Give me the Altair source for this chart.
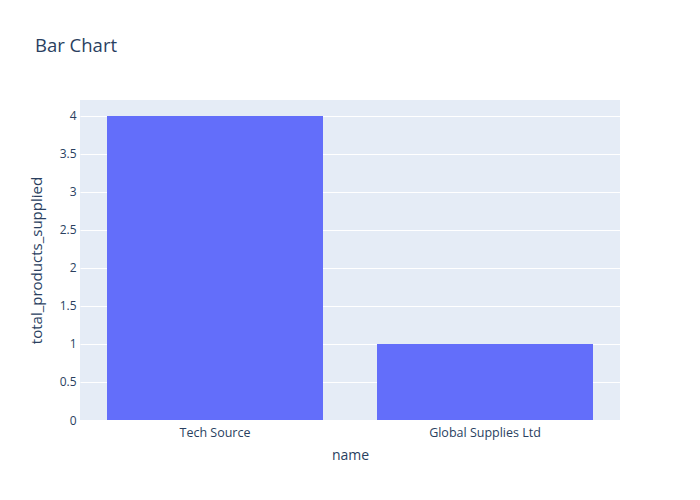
import altair as alt
import pandas as pd

names = ["Tech Source", "Global Supplies Ltd"]
totals = [4, 1]
y_ticks = [0, 0.5, 1, 1.5, 2, 2.5, 3, 3.5, 4]

df = pd.DataFrame({"name": names, "total_products_supplied": totals})

font = "Open Sans"
txt = "#2a3f5f"

chart = alt.Chart(df).mark_bar(color="#636efa").encode(
    x=alt.X("name:N", sort=names, title="name",
            scale=alt.Scale(paddingInner=0.2, paddingOuter=0.1),
            axis=alt.Axis(labelAngle=0, ticks=False, domain=False, grid=False,
                          labelPadding=6, titlePadding=10,
                          labelFontSize=12.5, titleFontSize=14,
                          labelColor=txt, titleColor=txt,
                          labelFont=font, titleFont=font, titleFontWeight="normal")),
    y=alt.Y("total_products_supplied:Q", title="total_products_supplied",
            scale=alt.Scale(domain=[0, 4.21], nice=False, zero=True),
            axis=alt.Axis(values=y_ticks, format="~g", ticks=False, domain=False,
                          grid=True, gridColor="white", gridWidth=1,
                          labelPadding=4, titlePadding=15,
                          labelFontSize=12, titleFontSize=15,
                          labelColor=txt, titleColor=txt,
                          labelFont=font, titleFont=font, titleFontWeight="normal")),
).properties(
    width=540,
    height=320,
    title=alt.TitleParams("Bar Chart", anchor="start", frame="group", dx=-45,
                          offset=45, fontSize=18.5, font=font, color=txt,
                          fontWeight="normal"),
    autosize=alt.AutoSizeParams(type="none"),
    padding={"left": 72, "top": 92, "right": 64, "bottom": 64},
).configure(
    background="white",
    view=alt.ViewConfig(fill="#e5ecf6", stroke=None),
)

chart.save("out.html", embed_options={"renderer": "svg", "actions": False})
